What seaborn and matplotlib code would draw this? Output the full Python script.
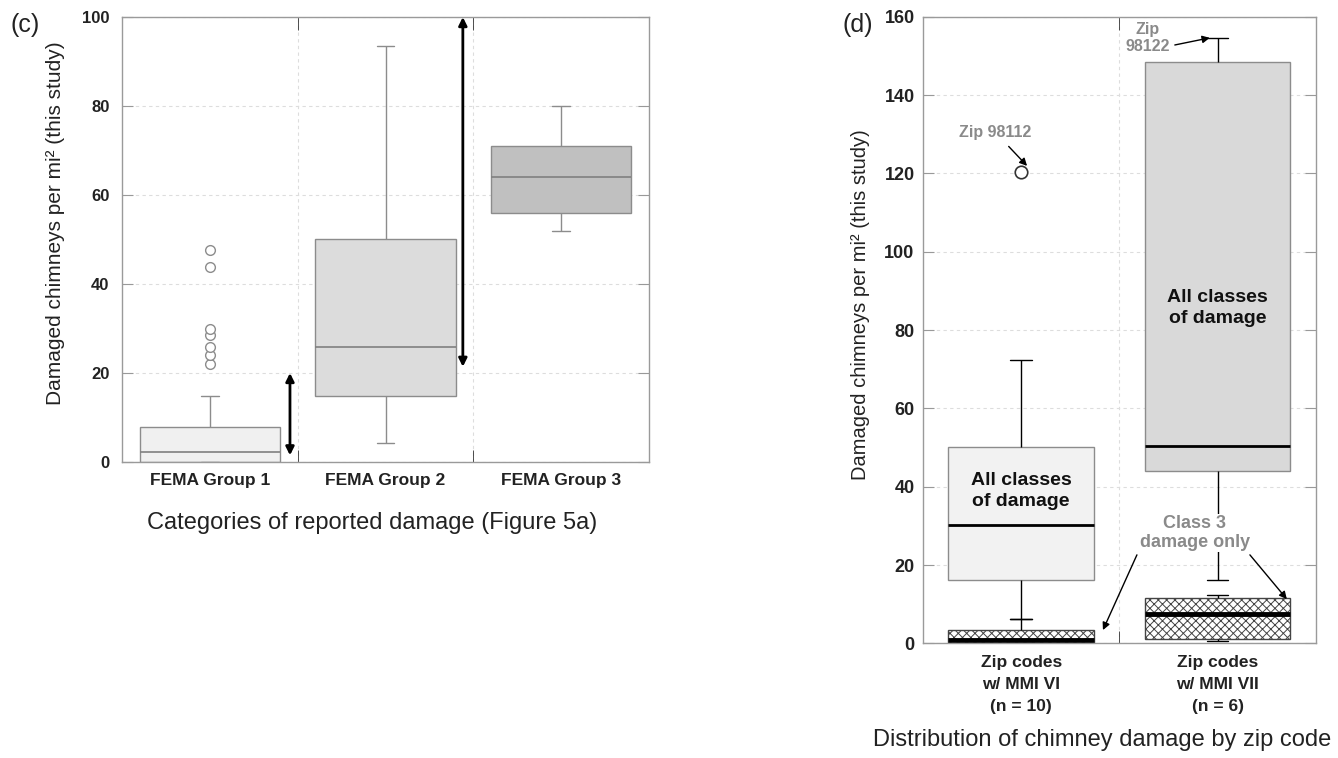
import matplotlib
matplotlib.use("Agg")
import matplotlib.pyplot as plt
import numpy as np
import pandas as pd
import seaborn as sns

# panel (c): five-number summaries (min, q1, median, q3, max)
c_groups = ["FEMA Group 1", "FEMA Group 2", "FEMA Group 3"]
c_g1 = [0.0, 0.0, 2.3, 7.9, 14.9]
c_g2 = [4.3, 14.9, 25.9, 50.1, 93.6]
c_g3 = [52.0, 56.0, 64.1, 71.0, 80.0]
c_g1_outliers = [22.0, 24.0, 25.9, 28.5, 29.9, 43.9, 47.6]
c_fills = ["#f0f0f0", "#dcdcdc", "#c0c0c0"]
c_arrow1 = [1.5, 20.0]
c_arrow2 = [21.4, 100.0]

# panel (d): all classes of damage and class 3 only
d_groups = ["Zip codes\nw/ MMI VI\n(n = 10)", "Zip codes\nw/ MMI VII\n(n = 6)"]
d_all_vi = [6.2, 16.1, 30.3, 50.1, 72.4]
d_all_vii = [16.3, 44.0, 50.5, 148.4, 154.6]
d_c3_vi = [0.0, 0.2, 0.8, 3.3, 6.2]
d_c3_vii = [0.6, 1.1, 7.6, 11.7, 12.3]
d_outlier_vi = [120.4]
d_fills = ["#f2f2f2", "#d9d9d9"]

sns.set_style("white")
plt.rcParams["font.family"] = ["Liberation Sans", "DejaVu Sans"]
plt.rcParams["hatch.linewidth"] = 0.7
plt.rcParams["hatch.color"] = "#444444"

fig = plt.figure(figsize=(13.38, 7.58), dpi=100)
ax_c = fig.add_axes([0.0912, 0.3905, 0.3939, 0.587])
ax_d = fig.add_axes([0.6898, 0.1512, 0.2937, 0.8268])


def long_df(groups, *values):
    return pd.DataFrame({"group": np.repeat(groups, 5), "value": np.concatenate(values)})


def style_axes(ax, n, ymax, ystep, ysize, xsize, ypad):
    ax.set_xlim(-0.5, n - 0.5)
    ax.set_ylim(0, ymax)
    ax.set_yticks(np.arange(0, ymax + 1, ystep))
    ax.set_xticks(np.arange(0.5, n - 0.5), minor=True)
    ax.set_axisbelow(True)
    ax.grid(axis="y", which="major", ls=(0, (3, 3)), color="#dddddd", lw=0.8)
    ax.grid(axis="x", which="minor", ls=(0, (3, 3)), color="#dddddd", lw=0.8)
    ax.tick_params(axis="y", which="major", direction="in", length=8, left=True,
                   right=True, color="#999999", pad=ypad, labelsize=ysize)
    ax.tick_params(axis="x", which="minor", direction="in", length=9, top=True,
                   bottom=True, color="#333333")
    ax.tick_params(axis="x", which="major", length=0, pad=8, labelsize=xsize)
    for s in ax.spines.values():
        s.set_color("#9a9a9a")
        s.set_linewidth(1)
    plt.setp(ax.get_yticklabels(), fontweight="bold", color="#222222")
    plt.setp(ax.get_xticklabels(), fontweight="bold", color="#222222")


# ---- panel (c)
sns.boxplot(data=long_df(c_groups, c_g1, c_g2, c_g3), x="group", y="value", hue="group",
            order=c_groups, hue_order=c_groups, palette=c_fills, saturation=1,
            whis=(0, 100), width=0.8, linecolor="#8c8c8c", linewidth=1,
            showfliers=False, legend=False, capwidths=0.1,
            medianprops=dict(color="#808080", linewidth=1.2), ax=ax_c)
sns.stripplot(x=[c_groups[0]] * len(c_g1_outliers), y=c_g1_outliers, order=c_groups,
              jitter=False, color="white", edgecolor="#8c8c8c", linewidth=1, size=7,
              ax=ax_c, zorder=3)

for xpos, (lo, hi) in [(0.456, c_arrow1), (1.44, c_arrow2)]:
    ax_c.annotate("", xy=(xpos, hi), xytext=(xpos, lo), annotation_clip=False,
                  arrowprops=dict(arrowstyle="<|-|>", color="black", lw=2,
                                  mutation_scale=12, shrinkA=0, shrinkB=0))

style_axes(ax_c, 3, 100, 20, 12, 12.5, 9)
ax_c.set_xlabel("Categories of reported damage (Figure 5a)", fontsize=17, color="#222222")
ax_c.set_ylabel("Damaged chimneys per mi² (this study)", fontsize=15, color="#222222")
ax_c.xaxis.set_label_coords(0.474, -0.112)
ax_c.yaxis.set_label_coords(-0.108, 0.537)

# ---- panel (d)
sns.boxplot(data=long_df(d_groups, d_all_vi, d_all_vii), x="group", y="value", hue="group",
            order=d_groups, hue_order=d_groups, palette=d_fills, saturation=1,
            whis=(0, 100), width=0.74, linecolor="black", linewidth=1,
            showfliers=False, legend=False, capwidths=0.11,
            boxprops=dict(edgecolor="#8c8c8c"),
            medianprops=dict(color="black", linewidth=2), ax=ax_d)
sns.boxplot(data=long_df(d_groups, d_c3_vi, d_c3_vii), x="group", y="value",
            order=d_groups, color="white", saturation=1,
            whis=(0, 100), width=0.74, linecolor="black", linewidth=1,
            showfliers=False, capwidths=0.11,
            boxprops=dict(edgecolor="#444444", hatch="xxxx"),
            medianprops=dict(color="black", linewidth=3.5), ax=ax_d)
sns.stripplot(x=[d_groups[0]] * len(d_outlier_vi), y=d_outlier_vi, order=d_groups,
              jitter=False, color="white", edgecolor="#333333", linewidth=1.2, size=9,
              ax=ax_d, zorder=3)

style_axes(ax_d, 2, 160, 20, 13, 12.5, 6)
plt.setp(ax_d.get_xticklabels(), linespacing=1.6)
ax_d.set_xlabel("")
ax_d.set_ylabel("Damaged chimneys per mi² (this study)", fontsize=14.5, color="#222222")
ax_d.yaxis.set_label_coords(-0.134, 0.54)
fig.text(1102 / 1338, 1 - 740 / 758, "Distribution of chimney damage by zip code",
         fontsize=17, ha="center", va="center", color="#222222")

gray = "#8a8a8a"
arrow_kw = dict(arrowstyle="-|>", color="black", lw=1, mutation_scale=11)
ax_d.annotate("Zip 98112", xy=(0.03, 121.9), xytext=(-0.13, 130.4), ha="center", va="center",
              fontsize=11.5, fontweight="bold", color=gray,
              arrowprops=dict(shrinkA=3, shrinkB=0, **arrow_kw))
ax_d.annotate("Zip\n98122", xy=(0.96, 154.6), xytext=(0.645, 154.6), ha="center", va="center",
              fontsize=11.5, fontweight="bold", color=gray, multialignment="center",
              arrowprops=dict(shrinkA=1, shrinkB=0, relpos=(1.0, 0.25), **arrow_kw))
ax_d.text(0.0, 38.9, "All classes\nof damage", ha="center", va="center", fontsize=14,
          fontweight="bold", color="#111111", linespacing=1.25)
ax_d.text(1.0, 85.6, "All classes\nof damage", ha="center", va="center", fontsize=14,
          fontweight="bold", color="#111111", linespacing=1.25)
ax_d.text(0.884, 28.2, "Class 3\ndamage only", ha="center", va="center", fontsize=13,
          fontweight="bold", color=gray, linespacing=1.1,
          bbox=dict(facecolor="white", edgecolor="none", pad=1), zorder=4)
ax_d.annotate("", xy=(0.416, 3.4), xytext=(0.589, 22.6),
              arrowprops=dict(shrinkA=0, shrinkB=0, **arrow_kw))
ax_d.annotate("", xy=(1.352, 11.3), xytext=(1.164, 22.6),
              arrowprops=dict(shrinkA=0, shrinkB=0, **arrow_kw))

fig.text(10 / 1338, 1 - 25 / 758, "(c)", fontsize=18, va="center", ha="left", color="#222222")
fig.text(843 / 1338, 1 - 25 / 758, "(d)", fontsize=18, va="center", ha="left", color="#222222")

fig.savefig("out.png", dpi=100)
